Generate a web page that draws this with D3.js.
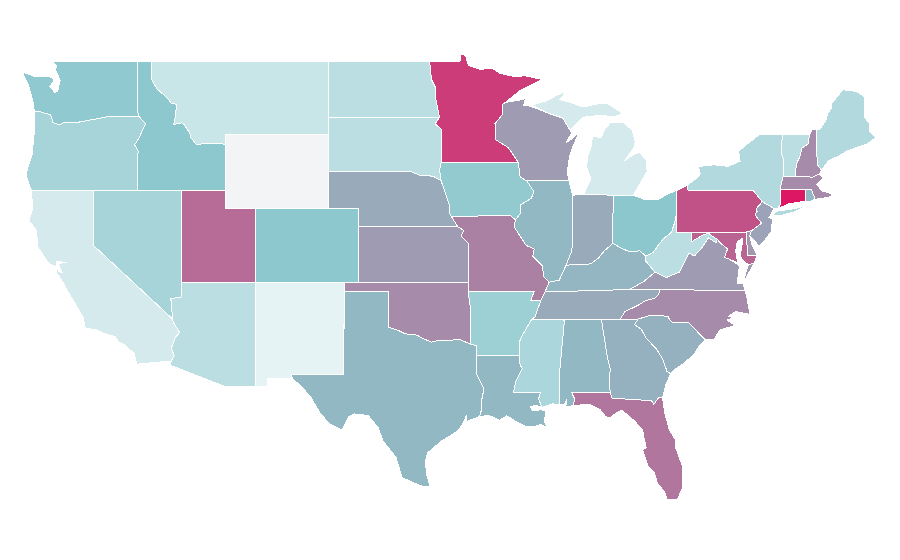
<!DOCTYPE html>
<html>
<head>
<meta charset="utf-8">
<title>States</title>
<script src="https://cdn.jsdelivr.net/npm/d3@7"></script>
<style>
	html, body { margin: 0; background: #fff; }
	svg { display: block; }
</style>
</head>
<body>
<svg id="map" width="900" height="560"></svg>
<script>
// Wyoming is the lowest, Connecticut the highest
const state_names = ["WA","OR","CA","NV","ID","MT","WY","UT","AZ","CO","NM","ND","SD","NE","KS","OK","TX","MN","IA","MO","AR","LA","WI","IL","IN","MI","OH","KY","TN","MS","AL","GA","FL","SC","NC","VA","WV","MD","DE","PA","NJ","NY","VT","NH","ME","MA","CT","RI"];
const state_values = [48,38,18,38,49,23,0,75,29,49,10,29,29,58,62,66,54,88,47,69,42,54,62,54,58,18,50,55,58,36,54,56,72,56,66,62,29,77,63,82,60,33,29,66,33,66,98,54];

// state outlines, lon/lat rings
const shape_WA = [[[-122.76,49],[-117.04,49],[-117.04,46.42],[-116.92,46],[-119,46],[-119.3,45.93],[-119.9,45.84],[-120.6,45.74],[-121.2,45.65],[-121.9,45.68],[-122.3,45.55],[-122.75,45.65],[-122.8,45.85],[-122.9,46.08],[-123.2,46.15],[-123.6,46.25],[-124,46.25],[-124.05,46.7],[-124.15,47],[-124.4,47.7],[-124.7,48.2],[-124.72,48.38],[-124,48.17],[-123.2,48.15],[-122.75,48.12],[-122.7,47.9],[-122.95,47.6],[-122.6,47.3],[-122.4,47.35],[-122.35,47.6],[-122.25,47.95],[-122.4,48.25],[-122.55,48.5],[-122.5,48.75]]];
const shape_OR = [[[-124,46.25],[-123.6,46.25],[-123.2,46.15],[-122.9,46.08],[-122.8,45.85],[-122.75,45.65],[-122.3,45.55],[-121.9,45.68],[-121.2,45.65],[-120.6,45.74],[-119.9,45.84],[-119.3,45.93],[-119,46],[-116.92,46],[-116.46,45.6],[-116.7,45.2],[-116.85,44.9],[-117.2,44.45],[-117.05,44.23],[-116.95,44.1],[-117.03,43.8],[-117.03,42],[-124.2,42],[-124.4,42.4],[-124.55,42.84],[-124.4,43.3],[-124.15,43.9],[-124.05,44.7],[-123.95,45.5]]];
const shape_CA = [[[-124.2,42],[-120,42],[-120,39],[-114.63,35],[-114.57,34.8],[-114.15,34.27],[-114.45,34],[-114.72,33.4],[-114.52,33.03],[-114.72,32.72],[-117.05,32.55],[-117.25,33.15],[-117.9,33.6],[-118.3,33.75],[-118.5,34.03],[-119.4,34.25],[-119.7,34.4],[-120.55,34.5],[-120.7,35.1],[-120.95,35.45],[-121.8,36.6],[-122,36.95],[-122.5,37.5],[-122.45,37.78],[-122.35,37.6],[-122.1,37.5],[-122.3,37.85],[-122.35,38.02],[-122,38.05],[-121.8,38.05],[-122.2,38.1],[-122.5,38.1],[-122.5,37.85],[-123,38],[-123.75,38.9],[-123.85,39.8],[-124.35,40.35],[-124.1,41]]];
const shape_NV = [[[-120,42],[-114.04,42],[-114.04,36.2],[-114.75,36.1],[-114.7,35.7],[-114.63,35],[-120,39]]];
const shape_ID = [[[-117.04,49],[-116.05,49],[-116.05,48],[-115.7,47.5],[-115,47],[-114.7,46.7],[-114.35,46.65],[-114.45,46],[-114.55,45.55],[-114,45.65],[-113.8,45.5],[-113.45,45.05],[-113.45,44.9],[-113,44.45],[-112.3,44.55],[-111.5,44.55],[-111.05,44.47],[-111.05,42],[-117.03,42],[-117.03,43.8],[-116.95,44.1],[-117.05,44.23],[-117.2,44.45],[-116.85,44.9],[-116.7,45.2],[-116.46,45.6],[-116.92,46],[-117.04,46.42]]];
const shape_MT = [[[-116.05,49],[-104.05,49],[-104.05,45],[-111.05,45],[-111.05,44.47],[-111.5,44.55],[-112.3,44.55],[-113,44.45],[-113.45,44.9],[-113.45,45.05],[-113.8,45.5],[-114,45.65],[-114.55,45.55],[-114.45,46],[-114.35,46.65],[-114.7,46.7],[-115,47],[-115.7,47.5],[-116.05,48]]];
const shape_WY = [[[-111.05,45],[-104.05,45],[-104.05,41],[-111.05,41]]];
const shape_UT = [[[-114.04,42],[-111.05,42],[-111.05,41],[-109.05,41],[-109.05,37],[-114.04,37]]];
const shape_AZ = [[[-114.04,37],[-109.05,37],[-109.05,31.33],[-111.07,31.33],[-114.81,32.5],[-114.72,32.72],[-114.52,33.03],[-114.72,33.4],[-114.45,34],[-114.15,34.27],[-114.57,34.8],[-114.63,35],[-114.7,35.7],[-114.75,36.1],[-114.04,36.2]]];
const shape_CO = [[[-109.05,41],[-102.05,41],[-102.05,37],[-109.05,37]]];
const shape_NM = [[[-109.05,37],[-103,37],[-103.05,32],[-106.6,32],[-106.53,31.78],[-108.2,31.78],[-108.2,31.33],[-109.05,31.33]]];
const shape_ND = [[[-104.05,49],[-97.23,49],[-97.1,48],[-96.85,47.6],[-96.8,46.9],[-96.56,45.94],[-104.05,45.94]]];
const shape_SD = [[[-104.05,45.94],[-96.56,45.94],[-96.85,45.6],[-96.45,45.3],[-96.45,43.5],[-96.55,43.1],[-96.45,42.5],[-97,42.75],[-97.9,42.8],[-98.5,43],[-104.05,43]]];
const shape_NE = [[[-104.05,43],[-98.5,43],[-97.9,42.8],[-97,42.75],[-96.45,42.5],[-96.1,41.7],[-95.9,41.2],[-95.85,40.7],[-95.31,40],[-102.05,40],[-102.05,41],[-104.05,41]]];
const shape_KS = [[[-102.05,40],[-95.31,40],[-94.9,39.8],[-95.1,39.5],[-94.6,39.1],[-94.62,37],[-102.05,37]]];
const shape_OK = [[[-103,37],[-94.62,37],[-94.62,36.5],[-94.43,35.4],[-94.48,33.64],[-95.2,33.9],[-95.8,33.85],[-96.6,33.85],[-97.1,33.75],[-97.7,33.95],[-98.1,34.13],[-98.9,34.2],[-99.4,34.4],[-100,34.56],[-100,36.5],[-103,36.5]]];
const shape_TX = [[[-103,36.5],[-100,36.5],[-100,34.56],[-99.4,34.4],[-98.9,34.2],[-98.1,34.13],[-97.7,33.95],[-97.1,33.75],[-96.6,33.85],[-95.8,33.85],[-95.2,33.9],[-94.48,33.64],[-94.04,33.55],[-94.04,33],[-94.04,31.99],[-93.55,31.2],[-93.7,30.6],[-93.7,30.1],[-93.85,29.7],[-94.7,29.45],[-94.75,29.75],[-94.95,29.35],[-95.3,28.95],[-95.85,28.65],[-96.4,28.4],[-96.9,28.05],[-97.35,27.75],[-97.5,27.3],[-97.45,26.6],[-97.2,25.95],[-97.6,25.9],[-98.2,26.07],[-99.1,26.4],[-99.5,27.5],[-100.4,28.4],[-100.7,29.1],[-101.4,29.77],[-102.3,29.85],[-102.7,29.7],[-103.15,28.98],[-104,29.3],[-104.65,29.9],[-105.3,30.8],[-106,31.4],[-106.53,31.78],[-106.6,32],[-103.05,32]]];
const shape_MN = [[[-97.23,49],[-95.15,49],[-95.15,49.38],[-94.8,49.3],[-94.6,48.75],[-93.8,48.55],[-93,48.6],[-92.5,48.35],[-91.5,48.15],[-90.8,48.2],[-89.6,48],[-91.1,47.4],[-92.1,46.75],[-92.3,46.65],[-92.29,46.1],[-92.8,45.6],[-92.75,45],[-92.8,44.75],[-91.9,44.3],[-91.22,43.5],[-96.45,43.5],[-96.45,45.3],[-96.85,45.6],[-96.56,45.94],[-96.8,46.9],[-96.85,47.6],[-97.1,48]]];
const shape_IA = [[[-96.45,43.5],[-91.22,43.5],[-91.1,42.7],[-90.65,42.5],[-90.15,41.9],[-90.35,41.55],[-91.05,41.2],[-91.1,40.7],[-91.42,40.38],[-91.73,40.6],[-95.77,40.58],[-95.85,40.7],[-95.9,41.2],[-96.1,41.7],[-96.45,42.5],[-96.55,43.1]]];
const shape_MO = [[[-95.77,40.58],[-91.73,40.6],[-91.42,40.38],[-91.5,40],[-91.1,39.5],[-90.7,39],[-90.15,38.8],[-90.25,38.4],[-89.6,37.9],[-89.5,37.3],[-89.13,37],[-89.4,36.5],[-89.7,36],[-90.37,36],[-90.15,36.5],[-94.62,36.5],[-94.62,37],[-94.6,39.1],[-95.1,39.5],[-94.9,39.8],[-95.31,40]]];
const shape_AR = [[[-94.62,36.5],[-90.15,36.5],[-90.37,36],[-89.7,36],[-90.1,35.1],[-90.3,35],[-90.6,34.6],[-91.1,33.9],[-91.17,33],[-94.04,33],[-94.04,33.55],[-94.48,33.64],[-94.43,35.4]]];
const shape_LA = [[[-94.04,33],[-91.17,33],[-91.1,32.5],[-90.95,32.3],[-91.4,31.6],[-91.55,31],[-89.73,31],[-89.85,30.65],[-89.6,30.2],[-90,30.32],[-90.4,30.25],[-90.3,30.05],[-89.9,30.05],[-89.7,30.1],[-89.4,30],[-89.4,29.8],[-89.45,29.4],[-89.2,29.05],[-89.7,29.3],[-90.1,29.15],[-90.65,29.15],[-91.4,29.45],[-92,29.75],[-92.5,29.5],[-93.2,29.77],[-93.85,29.7],[-93.7,30.1],[-93.7,30.6],[-93.55,31.2],[-94.04,31.99]]];
const shape_WI = [[[-92.1,46.75],[-91.2,46.87],[-90.75,46.95],[-90.85,46.6],[-90.4,46.55],[-89.1,46.14],[-88.1,45.9],[-87.8,45.35],[-87.6,45.1],[-87.9,44.7],[-88,44.55],[-87.4,44.9],[-87.05,45.25],[-87.5,44.4],[-87.75,43.8],[-87.9,43],[-87.8,42.5],[-90.65,42.5],[-91.1,42.7],[-91.22,43.5],[-91.9,44.3],[-92.8,44.75],[-92.75,45],[-92.8,45.6],[-92.29,46.1],[-92.3,46.65]]];
const shape_IL = [[[-90.65,42.5],[-87.8,42.5],[-87.53,41.7],[-87.53,39.35],[-87.6,38.7],[-88,37.9],[-88.45,37.1],[-89.13,37],[-89.5,37.3],[-89.6,37.9],[-90.25,38.4],[-90.15,38.8],[-90.7,39],[-91.1,39.5],[-91.5,40],[-91.42,40.38],[-91.1,40.7],[-91.05,41.2],[-90.35,41.55],[-90.15,41.9]]];
const shape_IN = [[[-87.53,41.7],[-87.2,41.76],[-86.8,41.76],[-84.8,41.72],[-84.82,39.1],[-85.4,38.7],[-85.8,38.3],[-86.3,38],[-86.8,37.95],[-87.6,37.95],[-88,37.9],[-87.6,38.7],[-87.53,39.35]]];
const shape_MI = [
	[[-86.8,41.76],[-84.8,41.72],[-83.45,41.72],[-83.15,42.1],[-82.5,43],[-82.55,43.6],[-83,44.05],[-83.35,43.95],[-84,43.6],[-83.4,44.3],[-83.3,44.6],[-83.5,45.25],[-84.1,45.65],[-85,45.65],[-85.4,45.25],[-85.6,44.85],[-86.2,44.9],[-86.3,44.3],[-86.5,43.9],[-86.6,43.25],[-86.3,42.6],[-86.6,42.1]],
	[[-90.3,46.6],[-89.3,46.85],[-88.6,47.15],[-87.85,47.4],[-88.45,46.9],[-87.85,46.8],[-86.85,46.5],[-85.7,46.7],[-85.2,46.7],[-84.15,46.15],[-84.7,45.98],[-85.7,46.05],[-86.85,45.95],[-87.7,45.25],[-87.8,45.35],[-88.2,45.9],[-89.1,46.14]]
];
const shape_OH = [[[-84.8,41.72],[-83.45,41.72],[-82.7,41.5],[-81.7,41.5],[-81.2,41.75],[-80.52,41.97],[-80.52,40.64],[-80.65,40.2],[-80.85,39.7],[-81.4,39.35],[-81.75,39],[-82.1,38.6],[-82.6,38.42],[-83,38.7],[-83.7,38.65],[-84.25,38.85],[-84.82,39.1]]];
const shape_KY = [[[-88.45,37.1],[-88,37.9],[-87.6,37.95],[-86.8,37.95],[-86.3,38],[-85.8,38.3],[-85.4,38.7],[-84.82,39.1],[-84.25,38.85],[-83.7,38.65],[-83,38.7],[-82.6,38.42],[-82.6,38.15],[-81.97,37.54],[-82.7,37.05],[-83.68,36.6],[-88.05,36.5],[-89.4,36.5],[-89.13,37]]];
const shape_TN = [[[-89.4,36.5],[-88.05,36.5],[-83.68,36.6],[-81.68,36.59],[-81.7,36.35],[-82,36.12],[-82.6,36],[-83.1,35.75],[-84,35.4],[-84.32,35],[-90.3,35],[-90.1,35.1],[-89.7,36]]];
const shape_MS = [[[-90.3,35],[-88.2,35],[-88.1,34.9],[-88.45,31.9],[-88.4,30.35],[-88.9,30.4],[-89.3,30.3],[-89.6,30.2],[-89.85,30.65],[-89.73,31],[-91.55,31],[-91.4,31.6],[-90.95,32.3],[-91.1,32.5],[-91.17,33],[-91.1,33.9],[-90.6,34.6]]];
const shape_AL = [[[-88.2,35],[-85.6,35],[-85.18,32.87],[-85,32.3],[-85.05,31.55],[-85,31],[-87.6,31],[-87.4,30.65],[-87.5,30.3],[-88,30.23],[-87.95,30.65],[-88.1,30.35],[-88.4,30.35],[-88.45,31.9],[-88.1,34.9]]];
const shape_GA = [[[-85.6,35],[-83.1,35],[-83.35,34.7],[-82.9,34.45],[-82.55,33.95],[-81.9,33.4],[-81.45,32.85],[-81.15,32.15],[-80.9,32.03],[-81.2,31.5],[-81.45,30.72],[-81.7,30.75],[-82.05,30.36],[-82.2,30.57],[-84.86,30.7],[-85,31],[-85.05,31.55],[-85,32.3],[-85.18,32.87]]];
const shape_FL = [[[-87.6,31],[-85,31],[-84.86,30.7],[-82.2,30.57],[-82.05,30.36],[-81.7,30.75],[-81.45,30.72],[-81.3,29.9],[-81,29],[-80.55,28.4],[-80.6,28.1],[-80.1,27],[-80.12,25.8],[-80.45,25.2],[-81.15,25.2],[-81.3,25.6],[-81.8,26.1],[-82,26.65],[-82.45,27.05],[-82.8,27.9],[-82.55,28],[-82.7,28.5],[-82.8,29],[-83.4,29.5],[-84.2,30.05],[-84.5,29.95],[-85,29.65],[-85.3,29.7],[-85.7,30.1],[-86.4,30.38],[-87.5,30.3],[-87.4,30.65]]];
const shape_SC = [[[-83.1,35],[-82.3,35.2],[-81.05,35.15],[-81.05,35.05],[-80.8,34.82],[-79.68,34.8],[-78.55,33.86],[-79,33.5],[-79.3,33.1],[-80,32.6],[-80.65,32.25],[-80.9,32.03],[-81.15,32.15],[-81.45,32.85],[-81.9,33.4],[-82.55,33.95],[-82.9,34.45],[-83.35,34.7]]];
const shape_NC = [[[-84.32,35],[-83.1,35],[-82.3,35.2],[-81.05,35.15],[-81.05,35.05],[-80.8,34.82],[-79.68,34.8],[-78.55,33.86],[-77.95,33.9],[-77.6,34.4],[-76.55,34.65],[-77.1,34.95],[-76.6,35.05],[-77,35.15],[-76.5,35.4],[-75.53,35.25],[-75.75,36.2],[-75.87,36.55],[-81.68,36.59],[-81.7,36.35],[-82,36.12],[-82.6,36],[-83.1,35.75],[-84,35.4]]];
const shape_VA = [
	[[-83.68,36.6],[-81.68,36.59],[-75.87,36.55],[-76,36.9],[-76.4,36.95],[-76.3,37.5],[-76.25,37.9],[-76.95,38.25],[-77.25,38.35],[-77.05,38.8],[-77.5,39.1],[-77.75,39.32],[-77.83,39.14],[-78.35,39.4],[-78.87,38.77],[-79.3,38.42],[-79.65,38.58],[-80.3,37.55],[-81.2,37.25],[-81.97,37.54],[-82.7,37.05]],
	[[-75.95,37.15],[-75.65,37.95],[-75.24,38.03],[-75.9,37.1]]
];
const shape_WV = [[[-80.52,40.64],[-80.52,39.72],[-79.48,39.72],[-79.48,39.2],[-78.75,39.55],[-78.35,39.65],[-77.75,39.32],[-77.83,39.14],[-78.35,39.4],[-78.87,38.77],[-79.3,38.42],[-79.65,38.58],[-80.3,37.55],[-81.2,37.25],[-81.97,37.54],[-82.6,38.15],[-82.6,38.42],[-82.1,38.6],[-81.75,39],[-81.4,39.35],[-80.85,39.7],[-80.65,40.2]]];
const shape_MD = [[[-79.48,39.72],[-75.79,39.72],[-75.69,38.46],[-75.05,38.45],[-75.24,38.03],[-75.65,37.95],[-75.95,38.15],[-76.2,38.4],[-76.1,38.9],[-76,39.4],[-76.4,39.2],[-76.5,38.7],[-76.4,38.2],[-76.32,38.05],[-76.95,38.25],[-77.25,38.35],[-77.05,38.8],[-77.5,39.1],[-77.75,39.32],[-78.35,39.65],[-78.75,39.55],[-79.48,39.2]]];
const shape_DE = [[[-75.79,39.72],[-75.42,39.8],[-75.55,39.5],[-75.4,39.05],[-75.05,38.45],[-75.69,38.46]]];
const shape_PA = [[[-80.52,41.97],[-79.76,42.27],[-79.76,42],[-75.35,42],[-74.7,41.36],[-75.1,41],[-75.05,40.85],[-75.2,40.65],[-74.75,40.2],[-75.42,39.8],[-75.79,39.72],[-80.52,39.72]]];
const shape_NJ = [[[-74.7,41.36],[-73.9,41],[-74.25,40.5],[-74,40.45],[-74.1,39.75],[-74.4,39.4],[-74.95,38.93],[-75.15,39.2],[-75.55,39.5],[-75.42,39.8],[-74.75,40.2],[-75.2,40.65],[-75.05,40.85],[-75.1,41]]];
const shape_NY = [
	[[-79.76,42.27],[-79.05,42.7],[-78.9,42.9],[-79.05,43.27],[-78,43.37],[-77,43.28],[-76.4,43.5],[-76.2,43.55],[-76.3,44.1],[-75.8,44.45],[-74.9,45],[-73.35,45],[-73.4,44],[-73.25,43.6],[-73.28,42.75],[-73.5,42.05],[-73.49,41.2],[-73.65,41],[-73.9,41],[-74.7,41.36],[-75.35,42],[-79.76,42]],
	[[-74,40.6],[-73.75,40.85],[-72.6,40.98],[-72,41.1],[-71.87,41.07],[-72.5,40.82],[-73.5,40.6]]
];
const shape_VT = [[[-73.35,45],[-71.5,45],[-71.6,44.5],[-72.05,44.25],[-72.1,43.9],[-72.4,43.4],[-72.45,42.73],[-73.28,42.75],[-73.25,43.6],[-73.4,44]]];
const shape_NH = [[[-71.5,45],[-71.3,45.3],[-71.05,45.3],[-70.98,43.4],[-70.7,43.07],[-70.82,42.87],[-71.3,42.7],[-72.45,42.73],[-72.4,43.4],[-72.1,43.9],[-72.05,44.25],[-71.6,44.5]]];
const shape_ME = [[[-71.05,45.3],[-70.85,45.25],[-70.4,45.75],[-70.25,46.2],[-70.05,46.4],[-69.99,46.7],[-69.23,47.46],[-69.05,47.42],[-68.3,47.35],[-67.8,47.07],[-67.78,45.95],[-67.45,45.6],[-67.45,45.2],[-67,44.85],[-67.6,44.5],[-68.5,44.25],[-69,44.1],[-69.5,43.85],[-70.2,43.6],[-70.7,43.07],[-70.98,43.4]]];
const shape_MA = [[[-73.5,42.05],[-73.28,42.75],[-72.45,42.73],[-71.3,42.7],[-70.82,42.87],[-70.6,42.65],[-71,42.3],[-70.65,41.95],[-70,41.8],[-70,41.65],[-70.65,41.55],[-71.12,41.5],[-71.2,41.68],[-71.38,42.02],[-71.8,42.02]]];
const shape_CT = [[[-73.5,42.05],[-71.8,42.02],[-71.8,41.4],[-72.9,41.25],[-73.65,41],[-73.49,41.2]]];
const shape_RI = [[[-71.8,42.02],[-71.38,42.02],[-71.2,41.68],[-71.12,41.5],[-71.5,41.37],[-71.8,41.4]]];

const state_shapes = [shape_WA,shape_OR,shape_CA,shape_NV,shape_ID,shape_MT,shape_WY,shape_UT,shape_AZ,shape_CO,shape_NM,shape_ND,shape_SD,shape_NE,shape_KS,shape_OK,shape_TX,shape_MN,shape_IA,shape_MO,shape_AR,shape_LA,shape_WI,shape_IL,shape_IN,shape_MI,shape_OH,shape_KY,shape_TN,shape_MS,shape_AL,shape_GA,shape_FL,shape_SC,shape_NC,shape_VA,shape_WV,shape_MD,shape_DE,shape_PA,shape_NJ,shape_NY,shape_VT,shape_NH,shape_ME,shape_MA,shape_CT,shape_RI];

const x = d3.scaleLinear().domain([-120, -67]).range([93.3, 876]);
const y = d3.scaleLinear().domain([49, 25]).range([61, 503.3]);

const color = d3.scaleLinear()
	.domain([0, 10, 50, 100])
	.range(["#f3f4f6", "#e6f3f5", "#8bc7cd", "#e0105f"]);

const ring_line = d3.line()
	.x(function(d) { return x(d[0]); })
	.y(function(d) { return y(d[1]); })
	.curve(d3.curveLinearClosed);

const states = state_names.map(function(name, i) {
	return { name: name, value: state_values[i], rings: state_shapes[i] };
});

d3.select("#map")
	.selectAll("path")
	.data(states)
	.enter()
	.append("path")
	.attr("class", function(d) { return "state " + d.name; })
	.attr("d", function(d) { return d.rings.map(ring_line).join(""); })
	.attr("fill", function(d) { return color(d.value); })
	.attr("stroke", "#fff")
	.attr("stroke-width", 1)
	.attr("stroke-linejoin", "round")
	.attr("shape-rendering", "crispEdges");
</script>
</body>
</html>
